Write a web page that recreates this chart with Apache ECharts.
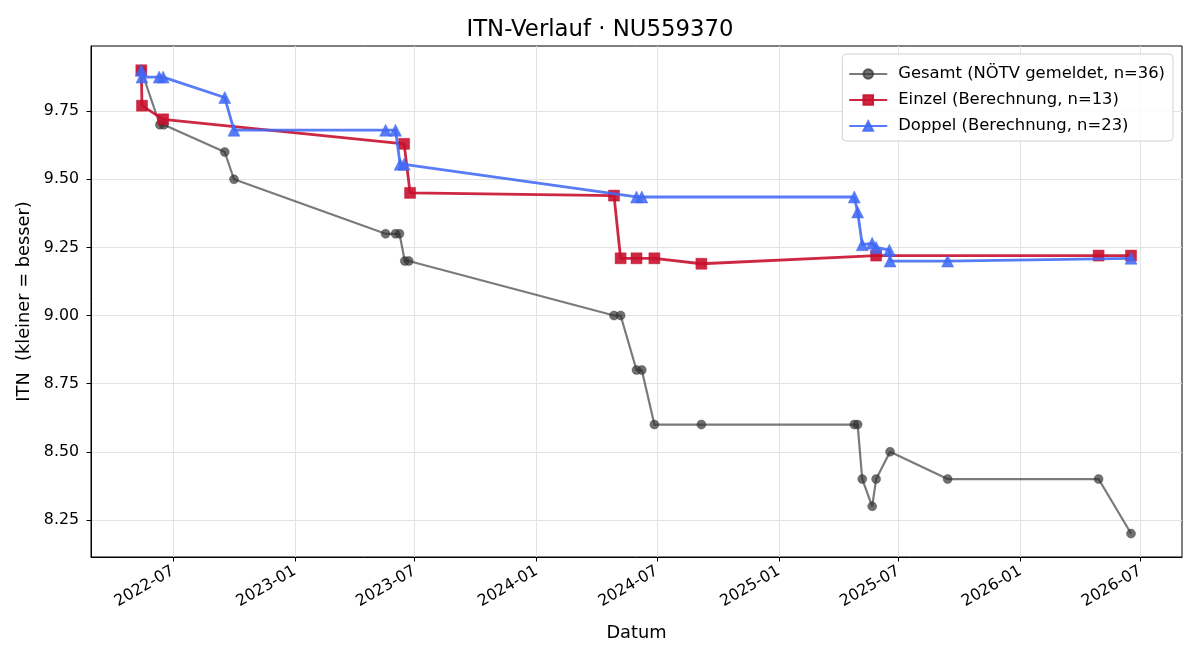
<!DOCTYPE html>
<html>
<head>
<meta charset="utf-8">
<script src="https://cdn.jsdelivr.net/npm/echarts@6/dist/echarts.min.js"></script>
<style>
  html, body { margin: 0; padding: 0; background: #fff; }
  #chart { width: 1200px; height: 660px; }
</style>
</head>
<body>
<div id="chart"></div>
<script>
// Gesamt (NÖTV gemeldet)
const gesamtDates = ['2022-05-14', '2022-06-11', '2022-06-17', '2022-09-17', '2022-10-01',
  '2023-05-18', '2023-06-02', '2023-06-08', '2023-06-16', '2023-06-22',
  '2024-04-27', '2024-05-07', '2024-05-31', '2024-06-08', '2024-06-27', '2024-09-06',
  '2025-04-25', '2025-04-30', '2025-05-07', '2025-05-22', '2025-05-28', '2025-06-18',
  '2025-09-13', '2026-04-29', '2026-06-17'];
const gesamtValues = [9.90, 9.70, 9.70, 9.60, 9.50,
  9.30, 9.30, 9.30, 9.20, 9.20,
  9.00, 9.00, 8.80, 8.80, 8.60, 8.60,
  8.60, 8.60, 8.40, 8.30, 8.40, 8.50,
  8.40, 8.40, 8.20];

// Einzel (Berechnung)
const einzelDates = ['2022-05-14', '2022-05-15', '2022-06-16', '2023-06-15', '2023-06-24',
  '2024-04-27', '2024-05-07', '2024-05-31', '2024-06-27', '2024-09-06',
  '2025-05-28', '2026-04-29', '2026-06-17'];
const einzelValues = [9.90, 9.77, 9.72, 9.63, 9.45,
  9.44, 9.21, 9.21, 9.21, 9.19,
  9.22, 9.22, 9.22];

// Doppel (Berechnung)
const doppelDates = ['2022-05-14', '2022-05-15', '2022-06-10', '2022-06-16', '2022-09-17', '2022-10-01',
  '2023-05-18', '2023-06-02', '2023-06-09', '2023-06-15',
  '2024-05-31', '2024-06-08',
  '2025-04-25', '2025-04-30', '2025-05-07', '2025-05-22', '2025-05-28', '2025-06-17', '2025-06-18',
  '2025-09-13', '2026-06-17'];
const doppelValues = [9.90, 9.875, 9.875, 9.875, 9.80, 9.68,
  9.68, 9.68, 9.555, 9.555,
  9.435, 9.435,
  9.435, 9.38, 9.26, 9.265, 9.25, 9.24, 9.20,
  9.20, 9.21];

// Achsen-Ticks
const xTickDates = ['2022-07-01', '2023-01-01', '2023-07-01', '2024-01-01', '2024-07-01',
  '2025-01-01', '2025-07-01', '2026-01-01', '2026-07-01'];
const yTickValues = [8.25, 8.50, 8.75, 9.00, 9.25, 9.50, 9.75];

function ts(s) {
  const p = s.split('-');
  return Date.UTC(+p[0], +p[1] - 1, +p[2]);
}
function pairs(d, v) {
  return d.map((x, i) => [ts(x), v[i]]);
}
function pad(n) { return n < 10 ? '0' + n : '' + n; }

const xTicks = xTickDates.map(ts);
const font = 'DejaVu Sans';

let myChart = echarts.init(document.getElementById('chart'));
myChart.setOption({
  animation: false,
  textStyle: { fontFamily: font },
  title: {
    text: 'ITN-Verlauf · NU559370',
    left: 'center',
    top: 14,
    textStyle: { fontFamily: font, fontSize: 22.8, fontWeight: 'normal', color: '#000' }
  },
  grid: {
    left: 91, right: 18, top: 46, bottom: 103,
    show: true, borderColor: '#000', borderWidth: 1
  },
  legend: {
    orient: 'vertical',
    right: 27,
    top: 54,
    padding: [12, 8, 7, 6],
    itemGap: 10,
    itemWidth: 38,
    itemHeight: 12,
    borderColor: '#d0d0d0',
    borderWidth: 1,
    borderRadius: 4,
    backgroundColor: 'rgba(255,255,255,0.85)',
    textStyle: { fontFamily: font, fontSize: 16.4, color: '#000', padding: [0, 0, 0, 6] },
    data: ['Gesamt (NÖTV gemeldet, n=36)', 'Einzel (Berechnung, n=13)', 'Doppel (Berechnung, n=23)']
  },
  xAxis: {
    type: 'value',
    min: ts('2022-02-27'),
    max: ts('2026-09-02'),
    name: 'Datum',
    nameLocation: 'middle',
    nameGap: 67,
    nameTextStyle: { fontFamily: font, fontSize: 17.8, color: '#000' },
    axisLine: { show: true, lineStyle: { color: '#000', width: 1 } },
    axisTick: { show: true, length: 4.5, customValues: xTicks, lineStyle: { color: '#000' } },
    axisLabel: {
      customValues: xTicks,
      rotate: 30,
      margin: 13,
      fontFamily: font,
      fontSize: 15.8,
      color: '#000',
      formatter: v => {
        const d = new Date(v);
        return d.getUTCFullYear() + '-' + pad(d.getUTCMonth() + 1);
      }
    },
    splitLine: { show: true, customValues: xTicks, lineStyle: { color: '#e3e3e3', width: 1 } }
  },
  yAxis: {
    type: 'value',
    min: 8.114,
    max: 9.989,
    name: 'ITN  (kleiner = besser)',
    nameLocation: 'middle',
    nameGap: 55,
    nameTextStyle: { fontFamily: font, fontSize: 17.8, color: '#000' },
    axisLine: { show: true, lineStyle: { color: '#000', width: 1 } },
    axisTick: { show: true, length: 4.5, customValues: yTickValues, lineStyle: { color: '#000' } },
    axisLabel: {
      customValues: yTickValues,
      margin: 12,
      fontFamily: font,
      fontSize: 15.8,
      color: '#000',
      formatter: v => v.toFixed(2)
    },
    splitLine: { show: true, customValues: yTickValues, lineStyle: { color: '#e3e3e3', width: 1 } }
  },
  series: [
    {
      name: 'Gesamt (NÖTV gemeldet, n=36)',
      type: 'line',
      data: pairs(gesamtDates, gesamtValues),
      symbol: 'circle',
      symbolSize: 9,
      lineStyle: { color: 'rgba(51,51,51,0.65)', width: 2.2 },
      itemStyle: { color: 'rgba(51,51,51,0.7)', borderColor: 'rgba(51,51,51,0.7)', borderWidth: 0.5 },
      z: 2
    },
    {
      name: 'Einzel (Berechnung, n=13)',
      type: 'line',
      data: pairs(einzelDates, einzelValues),
      symbol: 'rect',
      symbolSize: 11,
      lineStyle: { color: 'rgba(200,16,46,0.9)', width: 2.8 },
      itemStyle: { color: 'rgba(200,16,46,0.9)', borderColor: 'rgba(200,16,46,0.9)', borderWidth: 0.5 },
      z: 3
    },
    {
      name: 'Doppel (Berechnung, n=23)',
      type: 'line',
      data: pairs(doppelDates, doppelValues),
      symbol: 'triangle',
      symbolSize: 12,
      lineStyle: { color: 'rgba(65,105,245,0.88)', width: 2.8 },
      itemStyle: { color: 'rgba(65,105,245,0.88)', borderColor: 'rgba(65,105,245,0.88)', borderWidth: 0.5 },
      z: 4
    }
  ]
});
</script>
</body>
</html>
